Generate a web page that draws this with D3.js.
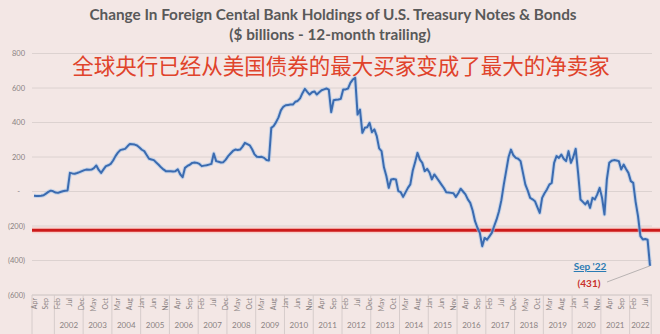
<!DOCTYPE html>
<html><head><meta charset="utf-8">
<script src="https://cdn.jsdelivr.net/npm/d3@7"></script>
<style>
html,body{margin:0;padding:0;background:#f3e7e5;}
svg{display:block;}
</style></head>
<body>
<script>
// ---- data ----
const titleLine1 = "Change In Foreign Cental Bank Holdings of U.S. Treasury Notes & Bonds";
const titleLine2 = "($ billions - 12-month trailing)";
const subtitleCN = "全球央行已经从美国债券的最大买家变成了最大的净卖家";
const startYear = 2001, startMonth = 3; // Apr 2001 (0-based month)
const monthNames = ["Jan","Feb","Mar","Apr","May","Jun","Jul","Aug","Sep","Oct","Nov","Dec"];
const yTicks = [800, 600, 400, 200, 0, -200, -400, -600];
const yearLabels = [2002,2003,2004,2005,2006,2007,2008,2009,2010,2011,2012,2013,2014,2015,2016,2017,2018,2019,2020,2021,2022];
const refLevel = -225;
const lastLabel = "Sep '22";
// monthly values, Apr 2001 .. Sep 2022 ($bn, 12-month trailing)
const values = [
 -25,-26,-26,-25,-22,-12,-2,5,1,
 -6,-8,-3,1,4,6,108,105,103,107,112,118,
 124,127,126,127,135,151,125,108,128,147,152,160,
 180,205,225,240,244,247,262,276,274,272,267,255,
 242,234,212,190,186,182,168,155,140,128,118,117,
 118,116,118,128,100,83,137,148,155,166,168,166,
 160,147,150,152,156,160,220,176,172,168,170,185,
 205,220,235,243,240,243,260,282,275,268,245,215,
 201,200,201,195,182,180,369,380,402,430,470,491,
 500,502,504,504,520,525,540,570,595,578,562,575,
 580,562,575,587,592,597,590,460,529,532,533,537,
 591,592,597,630,649,659,446,475,340,369,372,398,
 344,360,321,250,234,140,90,21,70,72,70,2,
 -4,-31,-5,21,41,120,170,224,185,166,118,131,
 110,70,99,80,60,40,20,-4,-6,-8,-10,-31,
 -10,16,0,-17,-46,-66,-110,-172,-210,-240,-317,-269,
 -280,-260,-240,-200,-162,-114,-50,40,120,200,243,210,
 195,190,176,108,40,5,-37,-45,-56,-90,-124,-37,
 -10,12,40,50,166,205,195,214,190,176,234,166,
 200,247,108,-46,-60,-75,-56,-95,-37,-46,-17,21,
 -37,-133,70,166,178,182,180,176,128,156,130,108,
 60,50,-60,-143,-259,-278,-275,-280,-431
];

// ---- layout ----
const W = 660, H = 334;
const svg = d3.select("body").append("svg").attr("width", W).attr("height", H);
svg.append("rect").attr("width", W).attr("height", H).attr("fill", "#f3e7e5");

const n = values.length;
const x = d3.scaleLinear().domain([0, n - 1]).range([34, 650]);
const y = d3.scaleLinear().domain([-600, 800]).range([295, 53.5]);
const plotL = 32, plotR = 652;

// gridlines
svg.append("g").selectAll("line").data(yTicks).join("line")
  .attr("x1", plotL).attr("x2", plotR)
  .attr("y1", d => y(d)).attr("y2", d => y(d))
  .attr("stroke", "#dcd2d0").attr("stroke-width", 1);

// y labels
const fmt = d => d === 0 ? "-" : d < 0 ? "(" + Math.abs(d) + ")" : String(d);
svg.append("g").selectAll("text").data(yTicks).join("text")
  .attr("x", d => d === 0 ? 20 : 25).attr("y", d => y(d) + 2.5)
  .attr("text-anchor", "end")
  .attr("font-family", "Lato, 'Open Sans', sans-serif").attr("font-size", 7.5)
  .attr("fill", "#8a8282").text(fmt);

// titles
svg.append("text").attr("x", 333).attr("y", 20).attr("text-anchor", "middle")
  .attr("font-family", "Lato, 'Open Sans', sans-serif").attr("font-weight", 700)
  .attr("font-size", 15.3).attr("fill", "#595959").text(titleLine1);
svg.append("text").attr("x", 330).attr("y", 40).attr("text-anchor", "middle")
  .attr("font-family", "Lato, 'Open Sans', sans-serif").attr("font-weight", 700)
  .attr("font-size", 15.3).attr("fill", "#595959").text(titleLine2);
svg.append("text").attr("x", 341).attr("y", 74).attr("text-anchor", "middle")
  .attr("font-family", "'Noto Sans CJK SC', sans-serif")
  .attr("font-size", 21.5).attr("fill", "#e0432b").text(subtitleCN);

// category axis
const idx = d3.range(n);
const monthOf = i => (startMonth + i) % 12;
const yearOf = i => startYear + Math.floor((startMonth + i) / 12);
const axisG = svg.append("g");
axisG.append("line").attr("x1", plotL).attr("x2", plotR).attr("y1", 295).attr("y2", 295)
  .attr("stroke", "#d6cccb");
// year separators
const sepIdx = idx.filter(i => i > 0 && monthOf(i) === 0);
const seps = [-0.5 - 0.35, ...sepIdx.map(i => i - 0.5), n - 0.5];
axisG.selectAll("line.sep").data(seps).join("line").attr("class", "sep")
  .attr("x1", d => d < 0 ? plotL : x(d)).attr("x2", d => d < 0 ? plotL : x(d))
  .attr("y1", 295).attr("y2", 334).attr("stroke", "#d6cccb");
// month labels every 5 months
const tickIdx = idx.filter(i => i % 5 === 0);
axisG.selectAll("text.m").data(tickIdx).join("text").attr("class", "m")
  .attr("transform", i => `translate(${x(i) + 2.5},298) rotate(-90)`)
  .attr("text-anchor", "end")
  .attr("font-family", "Lato, 'Open Sans', sans-serif").attr("font-size", 7)
  .attr("fill", "#8a8282").text(i => monthNames[monthOf(i)]);
// year labels
axisG.selectAll("text.y").data(yearLabels).join("text").attr("class", "y")
  .attr("x", yr => {
    const a = idx.find(i => yearOf(i) === yr);
    const b = idx.filter(i => yearOf(i) === yr).pop();
    return (x(a - 0.5) + x(b + 0.5)) / 2;
  })
  .attr("y", 328).attr("text-anchor", "middle")
  .attr("font-family", "Lato, 'Open Sans', sans-serif").attr("font-size", 8)
  .attr("fill", "#8a8282").text(yr => yr);

// red reference line
svg.append("line").attr("x1", plotL).attr("x2", W)
  .attr("y1", y(refLevel)).attr("y2", y(refLevel))
  .attr("stroke", "#ffb8b0").attr("stroke-width", 6).attr("opacity", 0.5);
svg.append("line").attr("x1", plotL).attr("x2", W)
  .attr("y1", y(refLevel)).attr("y2", y(refLevel))
  .attr("stroke", "#cc1a1a").attr("stroke-width", 3);

// series line
const line = d3.line().x((d, i) => x(i)).y(d => y(d));
svg.append("path").datum(values).attr("d", line).attr("fill", "none")
  .attr("stroke", "#a9c6ea").attr("stroke-width", 4).attr("opacity", 0.6)
  .attr("stroke-linejoin", "round");
svg.append("path").datum(values).attr("d", line).attr("fill", "none")
  .attr("stroke", "#3b6bb0").attr("stroke-width", 2)
  .attr("stroke-linejoin", "round");

// annotation
const li = n - 1;
svg.append("line").attr("x1", 607).attr("y1", 282).attr("x2", x(li)).attr("y2", y(values[li]))
  .attr("stroke", "#a8a4a4").attr("stroke-width", 0.8);
svg.append("text").attr("x", 590).attr("y", 270).attr("text-anchor", "middle")
  .attr("font-family", "Lato, 'Open Sans', sans-serif").attr("font-weight", 700)
  .attr("font-size", 10).attr("fill", "#2b7bb3").attr("text-decoration", "underline")
  .text(lastLabel);
svg.append("text").attr("x", 589).attr("y", 287).attr("text-anchor", "middle")
  .attr("font-family", "Lato, 'Open Sans', sans-serif").attr("font-weight", 700)
  .attr("font-size", 10).attr("fill", "#c8302a")
  .text("(" + Math.abs(values[li]) + ")");
</script>
</body></html>
